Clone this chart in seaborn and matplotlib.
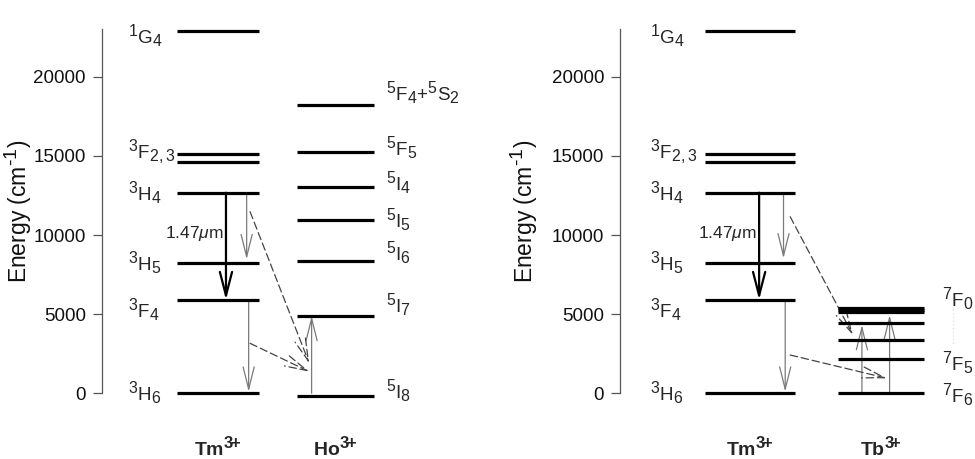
import matplotlib
matplotlib.use("Agg")
import matplotlib.pyplot as plt
import matplotlib._mathtext as _mt
from matplotlib.patches import FancyArrowPatch
import seaborn as sns
import pandas as pd

# ---------------- data (energies in cm^-1) ----------------
tm_energy = [0, 5900, 8260, 12680, 14600, 15130, 22900]
tm_labels = [r"$^{3}\mathrm{H}_{6}$", r"$^{3}\mathrm{F}_{4}$", r"$^{3}\mathrm{H}_{5}$",
             r"$^{3}\mathrm{H}_{4}$", r"$^{3}\mathrm{F}_{2,3}$", r"$^{1}\mathrm{G}_{4}$"]
tm_label_y = [-420, 4830, 7790, 12220, 14870, 22140]

ho_energy = [-200, 4890, 8380, 10970, 13020, 15250, 18200]
ho_labels = [r"$^{5}\mathrm{I}_{8}$", r"$^{5}\mathrm{I}_{7}$", r"$^{5}\mathrm{I}_{6}$",
             r"$^{5}\mathrm{I}_{5}$", r"$^{5}\mathrm{I}_{4}$", r"$^{5}\mathrm{F}_{5}$",
             r"$^{5}\mathrm{F}_{4}$+$^{5}\mathrm{S}_{2}$"]
ho_label_y = [-290, 5140, 8430, 10510, 12850, 15060, 18540]

tb_energy = [0, 2150, 3370, 4420, 5150, 5265, 5380]
tb_labels = [r"$^{7}\mathrm{F}_{6}$", r"$^{7}\mathrm{F}_{5}$", r"$^{7}\mathrm{F}_{0}$"]
tb_label_y = [-550, 1480, 5520]

ion_left = [r"Tm$^{\mathbf{3}\!\mathbf{+}}$", r"Ho$^{\mathbf{3}\!\mathbf{+}}$"]
ion_right = [r"Tm$^{\mathbf{3}\!\mathbf{+}}$", r"Tb$^{\mathbf{3}\!\mathbf{+}}$"]

yticks = [0, 5000, 10000, 15000, 20000]
emission_label = r"1.47$\mu$m"

# transitions: (x, y_start, x_end, y_end)
left_emission = [(1.058, 12680, 1.058, 5900)]
left_gray = [(1.234, 12680, 1.234, 8470), (1.251, 5900, 1.251, 100), (1.787, 0, 1.787, 4890)]
left_dashed = [(1.263, 11480, 1.767, 1900), (1.263, 3160, 1.767, 1370)]

right_emission = [(1.061, 12680, 1.061, 5900)]
right_gray = [(1.247, 12680, 1.247, 8530), (1.26, 5900, 1.26, 100),
              (1.845, 0, 1.845, 4320), (2.056, 0, 2.056, 4950)]
right_dashed = [(1.298, 11160, 1.776, 3690), (1.298, 2420, 2.036, 950)]

# ---------------- style ----------------
sns.set_theme(style="ticks")
plt.rcParams["font.family"] = ["Liberation Sans", "DejaVu Sans"]
plt.rcParams["mathtext.fontset"] = "custom"
plt.rcParams["mathtext.rm"] = "Liberation Sans"
plt.rcParams["mathtext.it"] = "Liberation Sans:italic"
plt.rcParams["mathtext.bf"] = "Liberation Sans:bold"
_mt.SHRINK_FACTOR = 0.85  # larger super/subscripts as in the original

fig = plt.figure(figsize=(9.75, 4.59), dpi=100)
ax1 = fig.add_axes([0.1043, 0.1259, 0.3253, 0.8273])
ax2 = fig.add_axes([0.6359, 0.1259, 0.3631, 0.8273])

LW = 2.3
HALF1, HALF2 = 0.345, 0.33
C1, C2 = 0.99, 1.99
FS = 13.5


def arrow(ax, t, color, lw, ls="-", hl=0.8, hw=0.2, ms=20):
    x0, y0, x1, y1 = t
    p = FancyArrowPatch((x0, y0), (x1, y1),
                        arrowstyle=f"->,head_length={hl},head_width={hw}",
                        mutation_scale=ms, color=color, lw=lw, linestyle=ls,
                        shrinkA=0, shrinkB=0, clip_on=False)
    ax.add_patch(p)


def setup(ax, ion_names):
    ax.set_xlim(0, 2.7)
    ax.set_ylim(-500, 23500)
    sns.despine(ax=ax, top=True, right=True, bottom=True)
    ax.spines["left"].set_bounds(0, 23000)
    ax.spines["left"].set_color("#555555")
    ax.spines["left"].set_linewidth(0.9)
    ax.set_xticks([])
    ax.set_yticks(yticks)
    ax.set_yticklabels([str(v) for v in yticks])
    ax.tick_params(axis="y", labelsize=FS, length=6.5, width=0.9, color="#555555",
                   pad=5, labelcolor="#111111")
    ax.set_ylabel(r"Energy (cm$^{\text{-1}}$)", fontsize=16.5, color="#111111")
    ax.set_facecolor("white")
    ax.grid(False)
    for x, name in zip([C1, C2], ion_names):
        ax.text(x, -3900, name, ha="center", va="baseline", fontsize=14,
                fontweight="bold", clip_on=False)


def tm_block(ax):
    df = pd.DataFrame({"E": tm_energy})
    ax.hlines(df["E"], C1 - HALF1, C1 + HALF1, color="black", lw=LW)
    for lab, y in zip(tm_labels, tm_label_y):
        ax.text(0.225, y, lab, ha="left", va="baseline", fontsize=FS)


# ---------------- left panel: Tm / Ho ----------------
setup(ax1, ion_left)
tm_block(ax1)
ax1.hlines(ho_energy, C2 - HALF2, C2 + HALF2, color="black", lw=LW)
for lab, y in zip(ho_labels, ho_label_y):
    ax1.text(2.42, y, lab, ha="left", va="baseline", fontsize=FS, clip_on=False)
for t in left_emission:
    arrow(ax1, t, "black", 1.6, hl=0.85, hw=0.22)
for t in left_gray:
    arrow(ax1, t, "#7a7a7a", 0.9)
for t in left_dashed:
    arrow(ax1, t, "#444444", 0.9, ls=(0, (6, 3)))
ax1.text(1.04, 10130, emission_label, ha="right", va="center", fontsize=12.5)
ax1.yaxis.set_label_coords(-0.214, 0.50)

# ---------------- right panel: Tm / Tb ----------------
setup(ax2, ion_right)
tm_block(ax2)
ax2.hlines(tb_energy, C2 - HALF2, C2 + HALF2, color="black", lw=LW)
for lab, y in zip(tb_labels, tb_label_y):
    ax2.text(2.455, y, lab, ha="left", va="baseline", fontsize=FS, clip_on=False)
ax2.plot([2.54, 2.54], [5300, 3100], color="#e2e2e2", lw=1, ls=":", clip_on=False)
for t in right_emission:
    arrow(ax2, t, "black", 1.6, hl=0.85, hw=0.22)
for t in right_gray:
    arrow(ax2, t, "#7a7a7a", 0.9)
for t in right_dashed:
    arrow(ax2, t, "#444444", 0.9, ls=(0, (6, 3)))
ax2.text(1.045, 10130, emission_label, ha="right", va="center", fontsize=12.5)
ax2.yaxis.set_label_coords(-0.226, 0.50)

fig.savefig("out.png", dpi=100, facecolor="white")
